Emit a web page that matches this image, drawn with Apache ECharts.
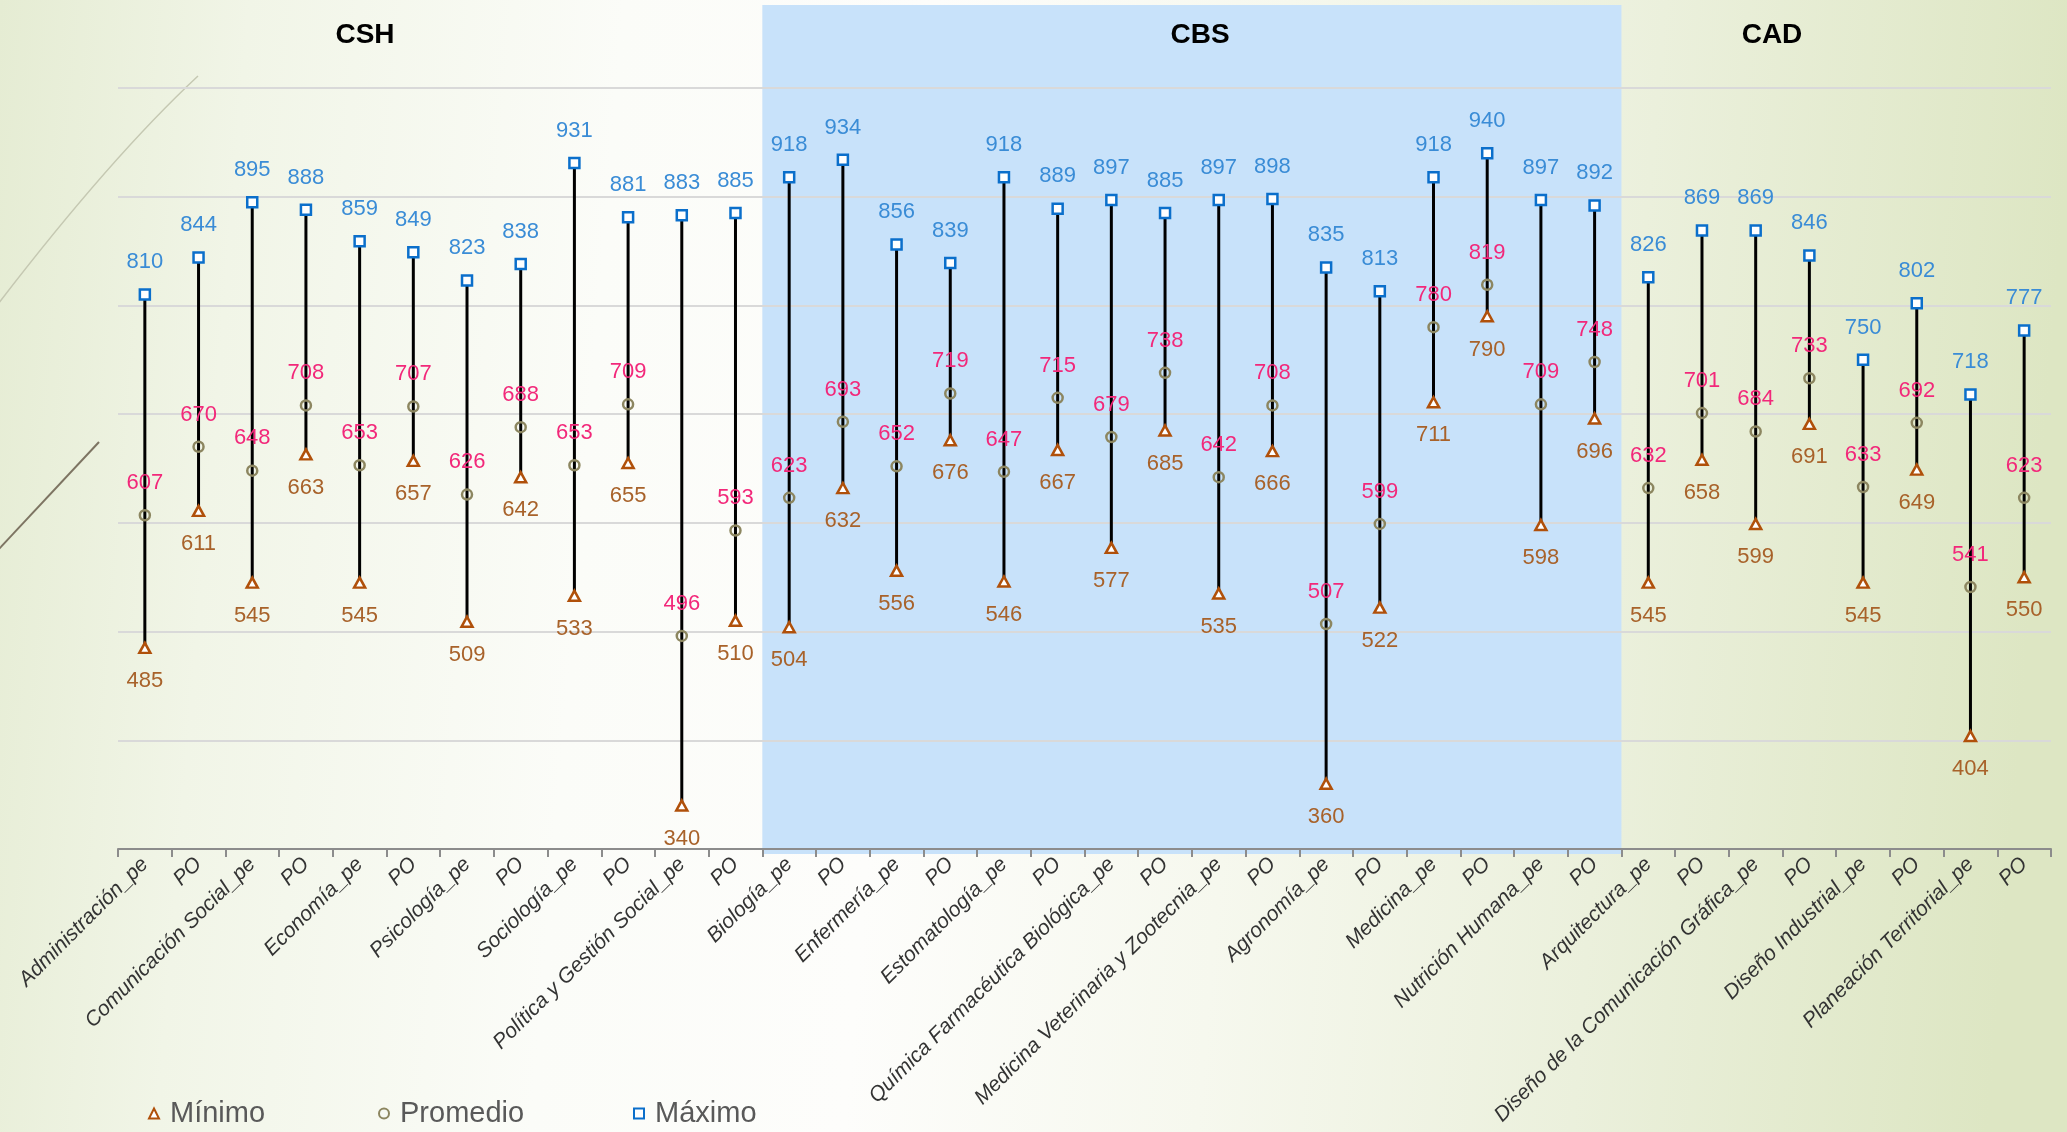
<!DOCTYPE html>
<html>
<head>
<meta charset="utf-8">
<script src="https://cdn.jsdelivr.net/npm/echarts@6/dist/echarts.min.js"></script>
<style>
html,body{margin:0;padding:0;width:2067px;height:1132px;overflow:hidden;}
#c{width:2067px;height:1132px;}
</style>
</head>
<body>
<div id="c"></div>
<script>
const categories = [
  'Administración_pe','PO','Comunicación Social_pe','PO','Economía_pe','PO','Psicología_pe','PO',
  'Sociología_pe','PO','Política y Gestión Social_pe','PO',
  'Biología_pe','PO','Enfermería_pe','PO','Estomatología_pe','PO','Química Farmacéutica Biológica_pe','PO',
  'Medicina Veterinaria y Zootecnia_pe','PO','Agronomía_pe','PO','Medicina_pe','PO','Nutrición Humana_pe','PO',
  'Arquitectura_pe','PO','Diseño de la Comunicación Gráfica_pe','PO','Diseño Industrial_pe','PO','Planeación Territorial_pe','PO'
];
const maximo = [810,844,895,888,859,849,823,838,931,881,883,885,
  918,934,856,839,918,889,897,885,897,898,835,813,918,940,897,892,
  826,869,869,846,750,802,718,777];
const promedio = [607,670,648,708,653,707,626,688,653,709,496,593,
  623,693,652,719,647,715,679,738,642,708,507,599,780,819,709,748,
  632,701,684,733,633,692,541,623];
const minimo = [485,611,545,663,545,657,509,642,533,655,340,510,
  504,632,556,676,546,667,577,685,535,666,360,522,711,790,598,696,
  545,658,599,691,545,649,404,550];
const groups = [
  {name:'CSH', first:0, last:11},
  {name:'CBS', first:12, last:27},
  {name:'CAD', first:28, last:35}
];
const yTicks = {min:300, max:1000, interval:100};

const FONT = "'Liberation Sans', Arial, sans-serif";
const chart = echarts.init(document.getElementById('c'));

const rangeData = categories.map((c,i)=>[i, minimo[i], maximo[i]]);

const option = {
  animation:false,
  backgroundColor:{type:'linear', x:0, y:0, x2:1, y2:0.15,
    colorStops:[
      {offset:0,color:'#E5ECD3'},
      {offset:0.12,color:'#F1F5E7'},
      {offset:0.3,color:'#FBFCF8'},
      {offset:0.45,color:'#FDFDFB'},
      {offset:0.62,color:'#F6F8EE'},
      {offset:0.8,color:'#EBF0DC'},
      {offset:1,color:'#DDE6C3'}]},
  grid:{left:118, right:16, top:88, bottom:283},
  xAxis:{
    type:'category', data:categories, boundaryGap:true,
    axisLine:{lineStyle:{color:'#8C8C8C', width:2}},
    axisTick:{show:true, length:8, interval:0, lineStyle:{color:'#8C8C8C', width:2}},
    axisLabel:{interval:0, rotate:45, fontStyle:'italic', fontSize:21, color:'#333333',
      fontFamily:FONT, margin:12},
    z:3
  },
  yAxis:{
    type:'value', min:yTicks.min, max:yTicks.max, interval:yTicks.interval,
    axisLine:{show:false}, axisTick:{show:false}, axisLabel:{show:false},
    splitLine:{lineStyle:{color:'#D9D9D9', width:2}}
  },
  legend:[
    {data:['Mínimo'], left:143, top:1094},
    {data:['Promedio'], left:373, top:1094},
    {data:['Máximo'], left:628, top:1094}
  ].map(l=>Object.assign(l,{itemWidth:10,itemHeight:10,itemGap:6,
    textStyle:{fontSize:29,color:'#595959',fontFamily:FONT,padding:[0,0,0,6]}})),
  series:[
    {
      type:'custom', name:'rango', data:rangeData, z:1,
      encode:{x:0, y:[1,2]},
      renderItem:function(params, api){
        const p1 = api.coord([api.value(0), api.value(1)]);
        const p2 = api.coord([api.value(0), api.value(2)]);
        return {type:'line', shape:{x1:p1[0],y1:p1[1],x2:p2[0],y2:p2[1]},
          style:{stroke:'#000000', lineWidth:3}};
      }
    },
    {
      type:'scatter', name:'Mínimo', data:minimo, z:3,
      symbol:'triangle', symbolSize:[11,10],
      itemStyle:{color:'#FFFFFF', borderColor:'#B0500A', borderWidth:2.5, opacity:1},
      label:{show:true, position:'bottom', distance:16, color:'#A8622A', fontSize:22, fontFamily:FONT}
    },
    {
      type:'scatter', name:'Promedio', data:promedio, z:3,
      symbol:'circle', symbolSize:10,
      itemStyle:{color:'rgba(255,255,255,0)', borderColor:'#8C8660', borderWidth:2.5, opacity:1},
      label:{show:true, position:'top', distance:15, color:'#F2287A', fontSize:22, fontFamily:FONT}
    },
    {
      type:'scatter', name:'Máximo', data:maximo, z:3,
      symbol:'rect', symbolSize:10,
      itemStyle:{color:'#FFFFFF', borderColor:'#0B6FCB', borderWidth:2.5, opacity:1},
      label:{show:true, position:'top', distance:15, color:'#3A8CD6', fontSize:22, fontFamily:FONT}
    }
  ]
};
chart.setOption(option);

// Group band and titles, positioned from the axis scale
const step = chart.convertToPixel({xAxisIndex:0}, 1) - chart.convertToPixel({xAxisIndex:0}, 0);
const axisY = chart.convertToPixel({yAxisIndex:0}, yTicks.min);
const cbs = groups[1];
const bandL = chart.convertToPixel({xAxisIndex:0}, cbs.first) - step/2;
const bandR = chart.convertToPixel({xAxisIndex:0}, cbs.last) + step/2;
const titleX = {CSH:365, CBS:1200, CAD:1772};
const graphics = [
  {type:'rect', z:-10, silent:true, shape:{x:bandL, y:5, width:bandR-bandL, height:axisY+5-5},
    style:{fill:'#C8E2FA'}},
  {type:'bezierCurve', z:-5, silent:true,
    shape:{x1:-5, y1:308, cpx1:70, cpy1:210, cpx2:140, cpy2:130, x2:198, y2:76},
    style:{stroke:'#C5C8B2', lineWidth:1.5, fill:null}},
  {type:'line', z:-5, silent:true, shape:{x1:-2, y1:550, x2:99, y2:442},
    style:{stroke:'#7D7462', lineWidth:2}}
];
groups.forEach(g=>{
  graphics.push({type:'text', z:10, x:titleX[g.name], y:35,
    style:{text:g.name, fontSize:28, fontWeight:'bold', fill:'#000000', fontFamily:FONT,
      align:'center', verticalAlign:'middle'}});
});
chart.setOption({graphic:graphics});
</script>
</body>
</html>
